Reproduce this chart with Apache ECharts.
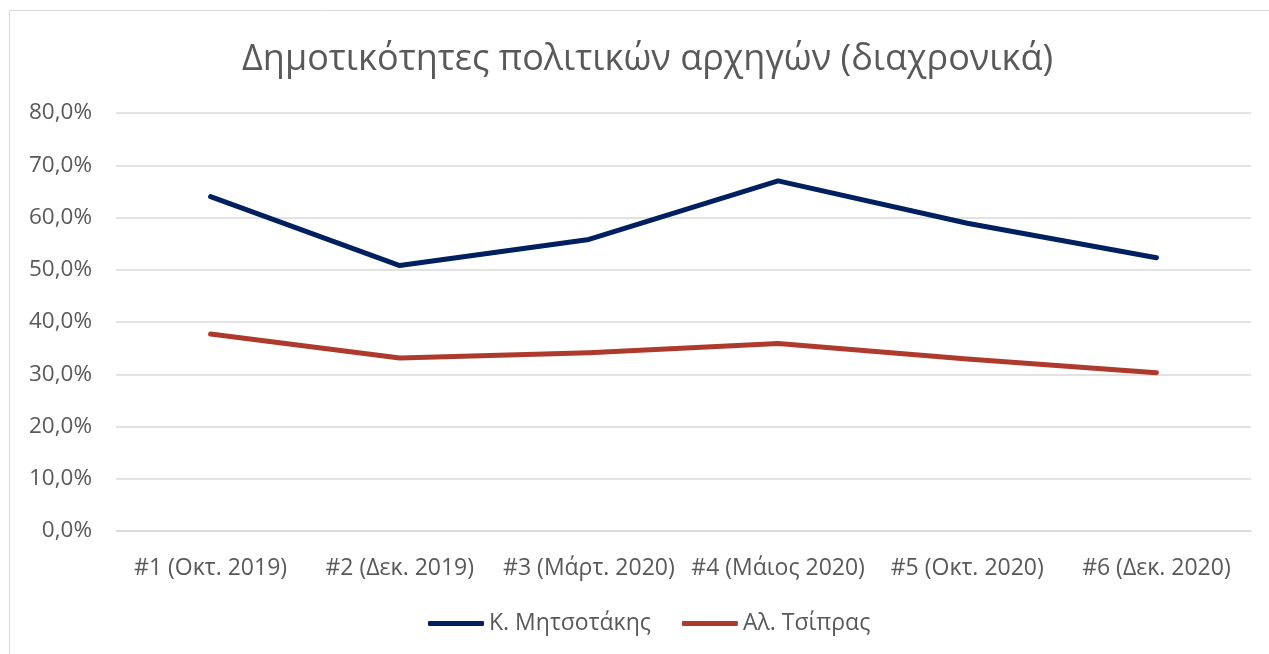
<!DOCTYPE html>
<html>
<head>
<meta charset="utf-8">
<script src="https://cdn.jsdelivr.net/npm/echarts@6/dist/echarts.min.js"></script>
<style>
  html, body { margin: 0; padding: 0; background: #fff; }
  #chart { width: 1269px; height: 654px; }
</style>
</head>
<body>
<div id="chart"></div>
<script>
let categories = ['#1 (Οκτ. 2019)', '#2 (Δεκ. 2019)', '#3 (Μάρτ. 2020)', '#4 (Μάιος 2020)', '#5 (Οκτ. 2020)', '#6 (Δεκ. 2020)'];
let mitsotakis = [64.0, 50.8, 55.8, 67.0, 58.9, 52.3];
let tsipras = [37.7, 33.1, 34.1, 35.9, 32.9, 30.3];
let seriesNames = ['Κ. Μητσοτάκης', 'Αλ. Τσίπρας'];

let font = '"Open Sans", "Noto Sans", sans-serif';
let textColor = '#595959';

let myChart = echarts.init(document.getElementById('chart'));

let option = {
    backgroundColor: '#fff',
    textStyle: { fontFamily: font },
    title: {
        text: 'Δημοτικότητες πολιτικών αρχηγών (διαχρονικά)',
        left: 237,
        top: 37,
        textStyle: { fontFamily: font, fontSize: 36, fontWeight: 'normal', color: textColor }
    },
    graphic: [{
        type: 'rect',
        shape: { x: 9.5, y: 10.5, width: 1270, height: 660 },
        style: { fill: 'none', stroke: '#d9d9d9', lineWidth: 1 },
        silent: true
    }],
    legend: {
        bottom: 14,
        left: 423,
        icon: 'roundRect',
        itemWidth: 56,
        itemHeight: 5,
        itemGap: 31,
        textStyle: { fontFamily: font, fontSize: 23, color: textColor },
        data: seriesNames
    },
    grid: { left: 116, right: 18, top: 113, bottom: 123, containLabel: false },
    xAxis: {
        type: 'category',
        data: categories,
        boundaryGap: true,
        axisLine: { show: true, lineStyle: { color: '#d9d9d9', width: 1.5 } },
        axisTick: { show: false },
        axisLabel: { color: textColor, fontSize: 23, fontFamily: font, margin: 26, interval: 0 }
    },
    yAxis: {
        type: 'value',
        min: 0,
        max: 80,
        interval: 10,
        axisLine: { show: false },
        axisTick: { show: false },
        splitLine: { lineStyle: { color: '#d9d9d9', width: 1.5 } },
        axisLabel: {
            color: textColor, fontSize: 22.5, fontFamily: font, margin: 24,
            formatter: function (v) { return v.toFixed(1).replace('.', ',') + '%'; }
        }
    },
    series: [
        {
            name: seriesNames[0],
            type: 'line',
            data: mitsotakis,
            showSymbol: false,
            symbol: 'none',
            lineStyle: { color: '#002060', width: 5, cap: 'round', join: 'round' },
            itemStyle: { color: '#002060' }
        },
        {
            name: seriesNames[1],
            type: 'line',
            data: tsipras,
            showSymbol: false,
            symbol: 'none',
            lineStyle: { color: '#AE3A2E', width: 5, cap: 'round', join: 'round' },
            itemStyle: { color: '#AE3A2E' }
        }
    ]
};
myChart.setOption(option);
</script>
</body>
</html>
